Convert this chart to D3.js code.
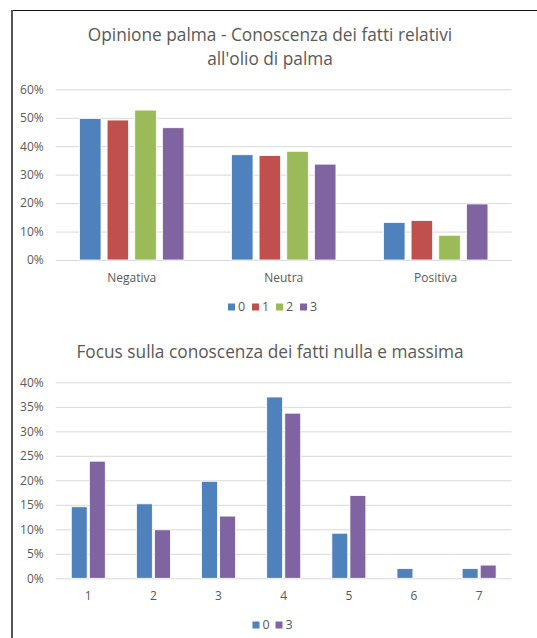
<!DOCTYPE html>
<html>
<head>
<meta charset="utf-8">
<script src="https://cdn.jsdelivr.net/npm/d3@7"></script>
<style>
  html, body { margin: 0; padding: 0; background: #fff; }
  svg { display: block; }
  text { font-family: "Open Sans", "Noto Sans", sans-serif; fill: #595959; }
</style>
</head>
<body>
<svg id="chart" width="537" height="638"></svg>
<script>
// Chart 1: opinion on palm oil by knowledge level (0-3)
const opinionCategories = ["Negativa", "Neutra", "Positiva"];
const knowledgeSeries = ["0", "1", "2", "3"];
const opinionValues = {
  "0": [0.497, 0.370, 0.132],
  "1": [0.492, 0.367, 0.139],
  "2": [0.527, 0.382, 0.087],
  "3": [0.465, 0.337, 0.197]
};
const opinionTicks = [0, 0.1, 0.2, 0.3, 0.4, 0.5, 0.6];

// Chart 2: 1-7 scale, knowledge levels 0 and 3
const scaleCategories = ["1", "2", "3", "4", "5", "6", "7"];
const focusSeries = ["0", "3"];
const focusValues = {
  "0": [0.146, 0.152, 0.198, 0.370, 0.092, 0.020, 0.020],
  "3": [0.239, 0.099, 0.127, 0.337, 0.169, 0.000, 0.027]
};
const focusTicks = [0, 0.05, 0.1, 0.15, 0.2, 0.25, 0.3, 0.35, 0.4];

const seriesColors = { "0": "#4f81bd", "1": "#c0504d", "2": "#9bbb59", "3": "#8064a2" };

const svg = d3.select("#chart");

// outer frame (top and left edges visible)
svg.append("line").attr("x1", 12).attr("x2", 537).attr("y1", 10.5).attr("y2", 10.5)
  .attr("stroke", "#111").attr("stroke-width", 1.2);
svg.append("line").attr("x1", 12).attr("x2", 12).attr("y1", 10).attr("y2", 638)
  .attr("stroke", "#555").attr("stroke-width", 2);

const pctFmt = d3.format(".0%");

function drawChart(cfg) {
  const g = svg.append("g");
  const x0 = d3.scaleBand().domain(cfg.categories).range([cfg.left, cfg.right]);
  const y = d3.scaleLinear().domain([0, cfg.max]).range([cfg.bottom, cfg.top]);
  const x1 = d3.scaleBand().domain(cfg.series).range([0, cfg.groupWidth]).paddingInner(cfg.innerPad);

  // title
  cfg.title.forEach((t, i) => {
    g.append("text")
      .attr("x", cfg.titleX).attr("y", cfg.titleY + i * cfg.titleLine)
      .attr("text-anchor", "middle")
      .style("font-size", cfg.titleSize + "px")
      .text(t);
  });

  // gridlines + y labels
  const yAxis = d3.axisLeft(y).tickValues(cfg.ticks).tickFormat(pctFmt)
    .tickSize(-(cfg.right - cfg.left)).tickPadding(12);
  const ya = g.append("g").attr("transform", `translate(${cfg.left},0)`).call(yAxis);
  ya.select(".domain").remove();
  ya.selectAll(".tick line").attr("stroke", "#d9d9d9").attr("stroke-width", 1);
  ya.selectAll(".tick text").style("font-size", "12px").style("font-family", "\"Open Sans\", sans-serif")
    .attr("fill", "#595959").attr("x", -12);

  // x axis labels
  const xAxis = d3.axisBottom(x0).tickSize(0).tickPadding(13);
  const xa = g.append("g").attr("transform", `translate(0,${cfg.bottom})`).call(xAxis);
  xa.select(".domain").remove();
  xa.selectAll(".tick text").style("font-size", "12px").style("font-family", "\"Open Sans\", sans-serif")
    .attr("fill", "#595959");

  // bars
  const groups = g.append("g").selectAll("g").data(cfg.categories).join("g")
    .attr("transform", c => `translate(${x0(c) + (x0.bandwidth() - cfg.groupWidth) / 2},0)`);
  groups.selectAll("rect")
    .data((c, ci) => cfg.series.map(s => ({ s, v: cfg.values[s][ci] })))
    .join("rect")
    .attr("x", d => x1(d.s))
    .attr("width", x1.bandwidth())
    .attr("y", d => y(d.v))
    .attr("height", d => y(0) - y(d.v))
    .attr("fill", d => seriesColors[d.s])
    .attr("stroke", "#fff").attr("stroke-width", 0.8);

  // legend
  const leg = g.append("g");
  let lx = cfg.legendX;
  cfg.series.forEach(s => {
    leg.append("rect").attr("x", lx).attr("y", cfg.legendY - 7).attr("width", 7).attr("height", 7)
      .attr("fill", seriesColors[s]);
    leg.append("text").attr("x", lx + 10).attr("y", cfg.legendY)
      .style("font-size", "12.5px").text(s);
    lx += cfg.legendStep;
  });
}

drawChart({
  categories: opinionCategories, series: knowledgeSeries, values: opinionValues,
  ticks: opinionTicks, max: 0.6,
  left: 55.7, right: 511.7, top: 89.3, bottom: 260,
  groupWidth: 104.5, innerPad: 0.22,
  title: ["Opinione palma - Conoscenza dei fatti relativi", "all'olio di palma"],
  titleX: 270, titleY: 41, titleLine: 24, titleSize: 17.3,
  legendX: 228, legendY: 310.5, legendStep: 24
});

drawChart({
  categories: scaleCategories, series: focusSeries, values: focusValues,
  ticks: focusTicks, max: 0.4,
  left: 55.7, right: 511.7, top: 382.3, bottom: 578.3,
  groupWidth: 34, innerPad: 0.12,
  title: ["Focus sulla conoscenza dei fatti nulla e massima"],
  titleX: 270, titleY: 358, titleLine: 24, titleSize: 17.3,
  legendX: 252.5, legendY: 628.5, legendStep: 23
});
</script>
</body>
</html>
